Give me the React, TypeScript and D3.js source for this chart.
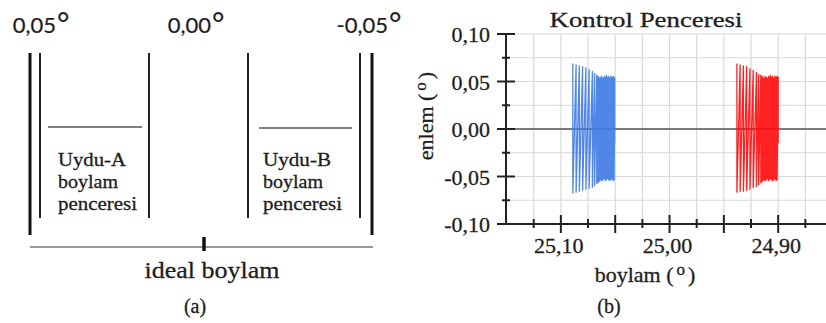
import React from "react";
import * as d3 from "d3";

const W = 826;
const H = 323;

// panel (a) labels
const windowLabels = ["0,05", "0,00", "-0,05"];
const windowValues = [0.05, 0.0, -0.05];

// panel (b) axes
const yMajor = [0.1, 0.05, 0.0, -0.05, -0.1];
const yMajorLabels = ["0,10", "0,05", "0,00", "-0,05", "-0,10"];
const yMinor = [0.075, 0.025, -0.025, -0.075];
const xMajor = [25.1, 25.05, 25.0, 24.95, 24.9];
const xLabelValues = [25.1, 25.0, 24.9];
const xLabels = ["25,10", "25,00", "24,90"];
const xMinor = [25.125, 25.075, 25.025, 24.975, 24.925, 24.875];

// Uydu-A (blue) strokes: longitude, top and bottom latitude
const blueLon = [25.089, 25.086, 25.083, 25.08, 25.077, 25.074, 25.071, 25.069, 25.067, 25.066, 25.065, 25.064, 25.063, 25.062, 25.061, 25.06, 25.059, 25.058, 25.057, 25.056, 25.055, 25.054, 25.053, 25.052, 25.051, 25.0505];
const blueTop = [0.069, 0.068, 0.067, 0.066, 0.065, 0.063, 0.061, 0.059, 0.057, 0.056, 0.055, 0.054, 0.056, 0.055, 0.054, 0.056, 0.055, 0.057, 0.055, 0.056, 0.054, 0.056, 0.055, 0.056, 0.055, 0.054];
const blueBot = [-0.068, -0.067, -0.066, -0.065, -0.064, -0.063, -0.062, -0.06, -0.058, -0.057, -0.056, -0.055, -0.054, -0.055, -0.054, -0.053, -0.055, -0.054, -0.053, -0.054, -0.055, -0.054, -0.053, -0.055, -0.054, -0.015];

// Uydu-B (red) strokes
const redLon = [24.938, 24.935, 24.932, 24.929, 24.926, 24.923, 24.92, 24.918, 24.916, 24.915, 24.914, 24.913, 24.912, 24.911, 24.91, 24.909, 24.908, 24.907, 24.906, 24.905, 24.904, 24.903, 24.902, 24.901, 24.9];
const redTop = [0.069, 0.068, 0.067, 0.066, 0.064, 0.062, 0.06, 0.058, 0.057, 0.056, 0.055, 0.054, 0.056, 0.055, 0.054, 0.056, 0.055, 0.057, 0.055, 0.056, 0.054, 0.056, 0.055, 0.056, 0.055];
const redBot = [-0.067, -0.066, -0.066, -0.065, -0.064, -0.062, -0.061, -0.059, -0.057, -0.056, -0.055, -0.054, -0.055, -0.054, -0.053, -0.055, -0.054, -0.053, -0.054, -0.055, -0.054, -0.053, -0.055, -0.054, -0.015];

const FONT = "'Liberation Serif', 'Times New Roman', serif";
const SANS = "Lato, 'Open Sans', sans-serif";
const INK = "#1e1e1e";

function zigzag(lon: number[], top: number[], bot: number[]) {
  const pts: [number, number][] = [];
  lon.forEach((l, i) => {
    pts.push([l, top[i]]);
    pts.push([l, bot[i]]);
  });
  return pts;
}

function PanelA() {
  // where each degree ring starts (schematic)
  const ringX = d3.scaleOrdinal<number, number>().domain(windowValues).range([57, 212, 389]);
  const top = 53;
  return (
    <g fontFamily={FONT} fill={INK} stroke={INK} strokeWidth={0.3}>
      {windowValues.map((v, i) => (
        <g key={i} fontFamily={SANS} strokeWidth={0.2}>
          <text x={ringX(v) - 1} y={33} fontSize={22} textAnchor="end">{windowLabels[i]}</text>
          <text x={ringX(v)} y={35} fontSize={30}>°</text>
        </g>
      ))}
      {/* outer double walls */}
      <line x1={30} x2={30} y1={top} y2={235} stroke="#111" strokeWidth={3} />
      <line x1={372} x2={372} y1={top} y2={235} stroke="#111" strokeWidth={3} />
      <line x1={40} x2={40} y1={top} y2={218} stroke="#222" strokeWidth={2} />
      <line x1={149} x2={149} y1={top} y2={218} stroke="#222" strokeWidth={2} />
      <line x1={248} x2={248} y1={top} y2={218} stroke="#222" strokeWidth={2} />
      <line x1={360} x2={360} y1={top} y2={218} stroke="#222" strokeWidth={2} />
      <line x1={48} x2={142} y1={127} y2={127} stroke="#555" strokeWidth={1.5} />
      <line x1={259} x2={352} y1={128} y2={128} stroke="#555" strokeWidth={1.5} />
      {["Uydu-A", "boylam", "penceresi"].map((t, i) => (
        <text key={t} x={58} y={166 + i * 22} fontSize={19} textLength={[68, 60, 79][i]} lengthAdjust="spacingAndGlyphs">{t}</text>
      ))}
      {["Uydu-B", "boylam", "penceresi"].map((t, i) => (
        <text key={t} x={263} y={166 + i * 22} fontSize={19} textLength={[68, 60, 79][i]} lengthAdjust="spacingAndGlyphs">{t}</text>
      ))}
      <line x1={30} x2={373} y1={247} y2={247} stroke="#777" strokeWidth={1.5} />
      <line x1={204} x2={204} y1={237} y2={251} stroke="#111" strokeWidth={3.5} />
      <text x={212} y={278} fontSize={24} textAnchor="middle" textLength={135} lengthAdjust="spacingAndGlyphs">ideal boylam</text>
      <text x={195} y={313} fontSize={20} textAnchor="middle">(a)</text>
    </g>
  );
}

function PanelB() {
  const x = d3.scaleLinear().domain([25.1505, 24.856]).range([506, 826]);
  const y = d3.scaleLinear().domain([-0.1, 0.1]).range([224, 34]);
  const line = d3.line<[number, number]>().x((d) => x(d[0])).y((d) => y(d[1]));
  const grid = [...xMajor, ...xMinor];
  const yGrid = [...yMajor, ...yMinor];
  return (
    <g fontFamily={FONT} fill={INK}>
      {grid.map((v) => (
        <line key={"gx" + v} x1={x(v)} x2={x(v)} y1={y(0.1)} y2={y(-0.1)} stroke="#d9d9d9" strokeWidth={1.2} />
      ))}
      {yGrid.map((v) => (
        <line key={"gy" + v} x1={x(25.1505)} x2={W} y1={y(v)} y2={y(v)} stroke="#d9d9d9" strokeWidth={1.2} />
      ))}
      <line x1={x(25.1505)} x2={W} y1={y(0)} y2={y(0)} stroke="#555" strokeWidth={1.6} />
      <path d={line(zigzag(blueLon, blueTop, blueBot)) || ""} fill="none" stroke="#3d79e2" strokeWidth={1.3} strokeOpacity={0.9} />
      <path d={line(zigzag(redLon, redTop, redBot)) || ""} fill="none" stroke="#ff0a0a" strokeWidth={1.3} strokeOpacity={0.9} />
      {/* axes */}
      <line x1={506} x2={506} y1={y(0.1)} y2={y(-0.1)} stroke="#222" strokeWidth={2} />
      <line x1={506} x2={W} y1={y(-0.1)} y2={y(-0.1)} stroke="#222" strokeWidth={2} />
      {yMinor.map((v) => (
        <line key={"yn" + v} x1={502} x2={510} y1={y(v)} y2={y(v)} stroke="#222" strokeWidth={2} />
      ))}
      {xMajor.map((v) => (
        <line key={"xm" + v} x1={x(v)} x2={x(v)} y1={215} y2={233} stroke="#222" strokeWidth={2} />
      ))}
      {xMinor.map((v) => (
        <line key={"xn" + v} x1={x(v)} x2={x(v)} y1={219} y2={228} stroke="#222" strokeWidth={2} />
      ))}
      <g stroke={INK} strokeWidth={0.3}>
        {yMajor.map((v, i) => (
          <g key={"ym" + v}>
            <line x1={497} x2={515} y1={y(v)} y2={y(v)} stroke="#222" strokeWidth={2} />
            <text x={490} y={y(v) + 8} fontSize={22} textAnchor="end">{yMajorLabels[i]}</text>
          </g>
        ))}
        {xLabelValues.map((v, i) => (
          <text key={"xl" + v} x={x(v) - 2} y={253} fontSize={22} textAnchor="middle">{xLabels[i]}</text>
        ))}
        <text x={646} y={27} fontSize={21} textAnchor="middle" textLength={193} lengthAdjust="spacingAndGlyphs">Kontrol Penceresi</text>
        <text x={645} y={282} fontSize={22} textAnchor="middle">
          boylam (<tspan dx={3} dy={-7} fontSize={17}>o</tspan><tspan dx={3} dy={7}>)</tspan>
        </text>
        <text transform={`translate(433,116) rotate(-90)`} fontSize={22} textAnchor="middle">
          enlem (<tspan dx={3} dy={-7} fontSize={17}>o</tspan><tspan dx={3} dy={7}>)</tspan>
        </text>
        <text x={609} y={313} fontSize={20} textAnchor="middle">(b)</text>
      </g>
    </g>
  );
}

export default function App() {
  return (
    <svg width={W} height={H} style={{ position: "absolute", left: 0, top: 0, background: "#fff" }}>
      <rect width={W} height={H} fill="#fff" />
      <PanelA />
      <PanelB />
    </svg>
  );
}
